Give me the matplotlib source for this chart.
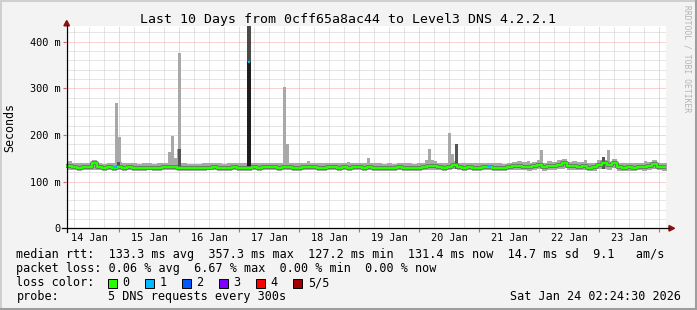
import matplotlib
matplotlib.use('Agg')
import matplotlib.pyplot as plt
from matplotlib.patches import Rectangle, Polygon
from matplotlib.lines import Line2D
import numpy as np

# --- data (ms), one bin = 2 hours, first bin starts 14 Jan 03:00 ---
bin_start = 3.0
bin_hours = 2.0
median = [133, 131, 130, 131, 132, 139, 131, 129, 131, 130,
          131, 130, 131, 130, 129, 130, 130, 129, 130, 131,
          132, 131, 130, 130, 129, 129, 129, 130, 130, 131,
          130, 129, 130, 131, 130, 130, 130, 131, 130, 131,
          132, 131, 130, 131, 131, 130, 130, 131, 132, 131,
          130, 130, 131, 131, 130, 131, 130, 131, 131, 130,
          131, 130, 130, 129, 130, 129, 131, 130, 130, 129,
          130, 131, 133, 134, 131, 130, 131, 136, 131, 130,
          131, 130, 130, 132, 131, 130, 130, 129, 131, 133,
          134, 132, 131, 133, 135, 131, 134, 133, 136, 139,
          133, 134, 132, 133, 130, 131, 136, 140, 135, 140,
          131, 130, 131, 130, 132, 131, 134, 137, 132, 131]
smoke_lo = [125, 124, 123, 124, 125, 126, 124, 122, 124, 123,
            124, 123, 124, 123, 122, 123, 124, 122, 123, 124,
            125, 124, 123, 123, 122, 122, 123, 123, 124, 124,
            123, 122, 123, 124, 123, 123, 123, 124, 123, 124,
            125, 124, 123, 124, 124, 123, 123, 124, 125, 124,
            123, 123, 124, 124, 123, 124, 123, 124, 124, 123,
            124, 123, 123, 122, 123, 122, 124, 123, 123, 122,
            123, 124, 125, 126, 124, 123, 124, 127, 124, 123,
            124, 123, 123, 125, 124, 123, 123, 122, 124, 125,
            126, 124, 123, 125, 127, 123, 126, 125, 127, 129,
            125, 126, 124, 125, 122, 123, 127, 128, 124, 130,
            123, 122, 123, 122, 124, 123, 126, 128, 124, 123]
smoke_hi = [145, 140, 139, 140, 141, 146, 140, 138, 140, 139,
            143, 139, 140, 139, 138, 139, 139, 138, 139, 140,
            141, 140, 139, 139, 138, 138, 138, 139, 139, 140,
            139, 138, 139, 140, 139, 139, 139, 140, 139, 140,
            141, 140, 139, 140, 140, 139, 139, 140, 141, 140,
            139, 139, 140, 140, 139, 140, 139, 140, 141, 139,
            140, 139, 139, 138, 139, 138, 140, 139, 139, 138,
            139, 140, 143, 144, 141, 139, 140, 145, 140, 139,
            140, 139, 139, 141, 140, 139, 139, 138, 141, 143,
            144, 142, 140, 143, 146, 141, 144, 143, 146, 148,
            143, 144, 142, 143, 139, 140, 146, 147, 142, 149,
            140, 139, 140, 139, 141, 140, 143, 146, 141, 140]

# single outlier pings (hour since 14 Jan 00:00, ms)
light_spike_h = [22.9, 24.1, 44.1, 45.3, 46.5, 47.7, 48.1, 90.1, 91.3, 99.5,
                 115.5, 123.5, 146.9, 147.9, 149.1, 156.1, 157.1, 187.5,
                 192.9, 201.5, 210.3, 219.7, 234.3]
light_spike_top = [268, 195, 163, 197, 150, 169, 376, 302, 181, 144,
                   143, 150, 147, 171, 147, 205, 159, 145,
                   167, 143, 147, 167, 144]
dark_spike_h = [23.5, 47.9, 158.9, 217.5]
dark_spike_top = [143, 170, 180, 152]

# the big one on 16 Jan: median 357.3 ms with 1 lost ping
peak_h = 75.9
peak_median = 357.3
peak_smoke_top = 460
loss1_h = [22.5, 171.9]
loss1_val = [131, 133]

day_labels = ['14 Jan', '15 Jan', '16 Jan', '17 Jan', '18 Jan',
              '19 Jan', '20 Jan', '21 Jan', '22 Jan', '23 Jan']
ytick_vals = [0, 100, 200, 300, 400]
ytick_labels = ['0', '100 m', '200 m', '300 m', '400 m']

loss_labels = ['0', '1', '2', '3', '4', '5/5']
loss_colors = ['#26ff00', '#00b8ff', '#0059ff', '#7e00ff', '#ff0000', '#a10000']

title = 'Last 10 Days from 0cff65a8ac44 to Level3 DNS 4.2.2.1'
row_rtt = 'median rtt:  133.3 ms avg  357.3 ms max  127.2 ms min  131.4 ms now  14.7 ms sd  9.1   am/s'
row_loss = 'packet loss: 0.06 % avg  6.67 % max  0.00 % min  0.00 % now'
row_probe = '5 DNS requests every 300s'
stamp = 'Sat Jan 24 02:24:30 2026'

W, H = 697, 310
MONO = 'DejaVu Sans Mono'
plt.rcParams['font.family'] = MONO
plt.rcParams['lines.scale_dashes'] = False


def fx(x):
    return x / W


def fy(y):
    return 1 - y / H


fig = plt.figure(figsize=(W / 100, H / 100), dpi=100, facecolor='#f3f3f3')

# frame shading
fig.add_artist(Line2D([fx(0.5), fx(0.5)], [fy(0), fy(H)], color='#cfcfcf', lw=1.4))
fig.add_artist(Line2D([fx(0), fx(W)], [fy(0.5), fy(0.5)], color='#cfcfcf', lw=1.4))
fig.add_artist(Line2D([fx(W - 1.5), fx(W - 1.5)], [fy(0), fy(H)], color='#9e9e9e', lw=2.2))
fig.add_artist(Line2D([fx(0), fx(W)], [fy(H - 1.5), fy(H - 1.5)], color='#9e9e9e', lw=2.2))

x0, x1, ytop, ybot = 66, 666, 26.3, 228.3
ax = fig.add_axes([fx(x0), fy(ybot), (x1 - x0) / W, (ybot - ytop) / H])
ax.set_facecolor('white')
ax.set_xlim(2.7, 242.7)
ax.set_ylim(0, 433)
for s in ax.spines.values():
    s.set_visible(False)

# grid: dotted, 1px on / 1px off
dots = (0, (0.72, 0.72))
for h in range(6, 243, 6):
    major = h % 24 == 0
    ax.axvline(h, color='#f2a6a6' if major else '#cdcdcd', lw=0.72,
               ls=dots, zorder=0.5)
for v in range(20, 433, 20):
    major = v % 100 == 0
    ax.axhline(v, color='#f2a6a6' if major else '#cdcdcd', lw=0.72,
               ls=dots, zorder=0.5)

n = len(median)
edges = bin_start + bin_hours * np.arange(n + 1)
med_e = np.append(median, median[-1])
lo_e = np.append(smoke_lo, smoke_lo[-1])
hi_e = np.append(smoke_hi, smoke_hi[-1])

# smoke
ax.bar(light_spike_h, np.array(light_spike_top) - 128, bottom=128, width=1.2,
       color='#a8a8a8', linewidth=0, zorder=1)
ax.fill_between(edges, lo_e, hi_e, step='post', color='#a8a8a8', linewidth=0, zorder=2)
ax.bar(dark_spike_h, np.array(dark_spike_top) - 128, bottom=128, width=1.2,
       color='#555555', linewidth=0, zorder=3)
ax.bar([peak_h], [peak_smoke_top - peak_median], bottom=peak_median, width=1.3,
       color='#4a4a4a', linewidth=0, zorder=3)
ax.bar([peak_h], [peak_median - 128], bottom=128, width=1.3,
       color='#1e1e1e', linewidth=0, zorder=3)

# median coloured by loss
ax.step(edges, med_e, where='post', color='#666666', lw=2.7, zorder=4)
ax.step(edges, med_e, where='post', color=loss_colors[0], lw=1.7, zorder=5)
ax.hlines(loss1_val, np.array(loss1_h) - 0.6, np.array(loss1_h) + 0.6,
          color=loss_colors[1], lw=1.7, zorder=6)
ax.hlines([peak_median], peak_h - 0.5, peak_h + 0.5, color=loss_colors[1], lw=1.7, zorder=6)

# ticks and labels
noon = [12 + 24 * k for k in range(len(day_labels))]
ax.set_xticks(noon, day_labels)
ax.set_yticks(ytick_vals, ytick_labels)
ax.tick_params(axis='x', length=0, pad=3.4, labelsize=7.4)
ax.tick_params(axis='y', length=0, pad=3.8, labelsize=7.4)

# axis tick marks
midn = list(range(24, 243, 24))
ax.vlines(midn, -0.016, 0, transform=ax.get_xaxis_transform(), color='#e06060',
          lw=0.8, clip_on=False)
ax.hlines(ytick_vals[1:], -0.005, 0, transform=ax.get_yaxis_transform(), color='#e06060',
          lw=0.8, clip_on=False)

# axes with arrows
ax_col = '#8b1010'
fig.add_artist(Line2D([fx(62), fx(669)], [fy(ybot), fy(ybot)], color='black', lw=0.9))
fig.add_artist(Line2D([fx(x0 + 0.7), fx(x0 + 0.7)], [fy(232), fy(25)], color='black', lw=0.9))
fig.add_artist(Polygon([[fx(669), fy(ybot - 2.8)], [fx(669), fy(ybot + 2.8)], [fx(674.5), fy(ybot)]],
                       closed=True, color=ax_col))
fig.add_artist(Polygon([[fx(x0 + 0.7 - 2.8), fy(25.8)], [fx(x0 + 0.7 + 2.8), fy(25.8)],
                        [fx(x0 + 0.7), fy(20.5)]], closed=True, color=ax_col))

# texts
fig.text(fx(348), fy(23.5), title, ha='center', va='baseline', size=9.55)
fig.text(fx(10), fy(127), 'Seconds', rotation=90, ha='center', va='center', size=8.4)
fig.text(fx(686.5), fy(5), 'RRDTOOL / TOBI OETIKER', rotation=270, ha='center', va='top',
         size=5.8, color='#b4b4b4')

fs = 8.44
fig.text(fx(16.4), fy(258), row_rtt, va='baseline', size=fs)
fig.text(fx(16.4), fy(272), row_loss, va='baseline', size=fs)
fig.text(fx(16.4), fy(286), 'loss color:', va='baseline', size=fs)
for k, (lab, col) in enumerate(zip(loss_labels, loss_colors)):
    bx = 108 + 37.05 * k
    fig.add_artist(Rectangle((fx(bx), fy(287.5)), 8.5 / W, 8.5 / H, facecolor=col,
                             edgecolor='black', lw=0.7))
    fig.text(fx(bx + 14.5), fy(286), lab, va='baseline', size=fs)
fig.text(fx(16.4), fy(300), 'probe:', va='baseline', size=fs)
fig.text(fx(107.6), fy(300), row_probe, va='baseline', size=fs)
fig.text(fx(680.5), fy(300), stamp, ha='right', va='baseline', size=fs)

fig.savefig('out.png', dpi=100, facecolor=fig.get_facecolor())
